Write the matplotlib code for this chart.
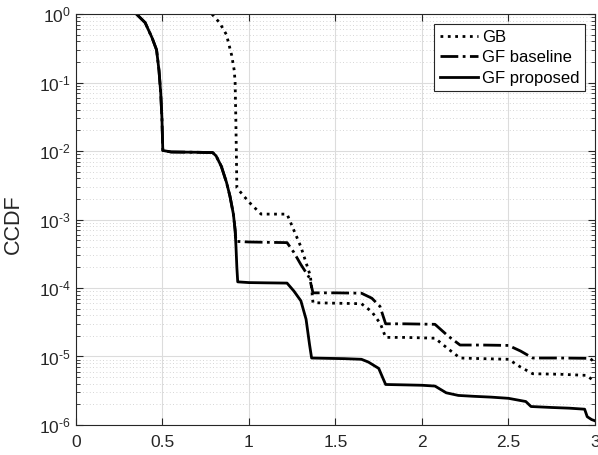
import matplotlib.pyplot as plt
from matplotlib.ticker import FixedLocator, LogLocator, NullFormatter

plt.rcParams['font.family'] = ['Liberation Sans', 'DejaVu Sans']
plt.rcParams['mathtext.fontset'] = 'custom'
plt.rcParams['mathtext.rm'] = 'Liberation Sans'
plt.rcParams['mathtext.it'] = 'Liberation Sans'

# GB (dotted)
gb_x = [0.786, 0.83, 0.87, 0.90, 0.915, 0.92, 0.924, 0.927, 0.93, 1.0, 1.07, 1.15, 1.22,
        1.30, 1.355, 1.37, 1.5, 1.65, 1.71, 1.76, 1.79, 1.9, 2.075, 2.15, 2.22, 2.35,
        2.50, 2.57, 2.64, 2.8, 2.95, 3.0]
gb_y = [1, 0.75, 0.5, 0.25, 0.15, 0.1, 0.03, 0.01, 0.0029, 0.0018, 0.0012, 0.0012, 0.0012,
        4e-4, 1.5e-4, 6.1e-5, 6e-5, 5.9e-5, 4.5e-5, 3e-5, 1.9e-5, 1.9e-5, 1.85e-5, 1.3e-5,
        9.5e-6, 9.3e-6, 9.1e-6, 7e-6, 5.6e-6, 5.5e-6, 5.3e-6, 4.3e-6]

# GF baseline (dash-dot)
base_x = [0.35, 0.40, 0.44, 0.466, 0.48, 0.49, 0.497, 0.502, 0.55, 0.70, 0.79, 0.81, 0.84,
          0.87, 0.89, 0.91, 0.92, 0.925, 1.0, 1.22, 1.26, 1.30, 1.35, 1.37, 1.5, 1.65, 1.71,
          1.757, 1.79, 1.9, 2.075, 2.15, 2.22, 2.35, 2.50, 2.57, 2.64, 2.8, 2.97, 3.0]
base_y = [1, 0.75, 0.45, 0.3, 0.15, 0.07, 0.03, 0.0102, 0.0097, 0.0096, 0.0095, 0.0085, 0.006,
          0.0035, 0.0022, 0.0012, 7e-4, 4.8e-4, 4.7e-4, 4.6e-4, 3.3e-4, 2.2e-4, 1.4e-4, 8.5e-5,
          8.5e-5, 8.4e-5, 7.1e-5, 5.4e-5, 3e-5, 3e-5, 2.95e-5, 2e-5, 1.47e-5, 1.47e-5, 1.45e-5,
          1.2e-5, 9.5e-6, 9.5e-6, 9.4e-6, 8.2e-6]

# GF proposed (solid)
prop_x = [0.35, 0.40, 0.44, 0.466, 0.48, 0.49, 0.497, 0.502, 0.55, 0.70, 0.79, 0.81, 0.84,
          0.87, 0.89, 0.91, 0.92, 0.925, 0.93, 0.935, 1.0, 1.1, 1.22, 1.26, 1.30, 1.33, 1.35,
          1.362, 1.45, 1.55, 1.65, 1.69, 1.75, 1.77, 1.79, 1.9, 2.0, 2.075, 2.14, 2.21, 2.30,
          2.40, 2.50, 2.60, 2.63, 2.75, 2.85, 2.94, 2.955, 2.98, 3.0]
prop_y = [1, 0.75, 0.45, 0.3, 0.15, 0.07, 0.03, 0.0102, 0.0097, 0.0096, 0.0095, 0.0085, 0.006,
          0.0035, 0.0022, 0.0012, 7e-4, 4e-4, 2e-4, 1.23e-4, 1.2e-4, 1.19e-4, 1.18e-4, 9e-5,
          6.5e-5, 3.5e-5, 1.5e-5, 9.5e-6, 9.4e-6, 9.3e-6, 9.1e-6, 8.3e-6, 6.7e-6, 5.1e-6,
          3.9e-6, 3.85e-6, 3.8e-6, 3.7e-6, 2.95e-6, 2.7e-6, 2.62e-6, 2.55e-6, 2.45e-6, 2.2e-6,
          1.86e-6, 1.8e-6, 1.76e-6, 1.7e-6, 1.32e-6, 1.2e-6, 1.15e-6]

xticks = [0, 0.5, 1, 1.5, 2, 2.5, 3]
xticklabels = ['0', '0.5', '1', '1.5', '2', '2.5', '3']
yticks = [1e-6, 1e-5, 1e-4, 1e-3, 1e-2, 1e-1, 1]
yticklabels = [r'$10^{\text{-6}}$', r'$10^{\text{-5}}$', r'$10^{\text{-4}}$',
               r'$10^{\text{-3}}$', r'$10^{\text{-2}}$', r'$10^{\text{-1}}$', r'$10^{0}$']

fig = plt.figure(figsize=(5.98, 4.55), dpi=100)
ax = fig.add_axes([0.127, 0.066, 0.868, 0.903])

ax.plot(gb_x, gb_y, color='black', linestyle=':', linewidth=2.0, label='GB')
ax.plot(base_x, base_y, color='black', linestyle='-.', linewidth=2.0, label='GF baseline')
ax.plot(prop_x, prop_y, color='black', linestyle='-', linewidth=2.0, label='GF proposed')

ax.set_yscale('log')
ax.set_xlim(0, 3)
ax.set_ylim(1e-6, 1)
ax.set_xticks(xticks)
ax.set_xticklabels(xticklabels)
ax.set_yticks(yticks)
ax.set_yticklabels(yticklabels)
ax.yaxis.set_minor_locator(LogLocator(base=10, subs=range(2, 10), numticks=20))
ax.yaxis.set_minor_formatter(NullFormatter())

ax.grid(True, which='major', color='#dcdcdc', linewidth=0.8)
ax.grid(True, which='minor', axis='y', color='#c8c8c8', linestyle=(0, (1, 3)), linewidth=0.6)
ax.set_axisbelow(True)

ax.tick_params(which='both', direction='in', top=True, right=True, colors='#262626',
               labelsize=12.5)
ax.tick_params(which='major', length=5)
ax.tick_params(which='minor', length=3)
ax.tick_params(axis='x', pad=7)
for s in ax.spines.values():
    s.set_color('#262626')
    s.set_linewidth(0.8)

ax.set_ylabel('CCDF', fontsize=15.5, color='#262626')
ax.yaxis.set_label_coords(-0.1, 0.488)

leg = ax.legend(loc='upper right', fontsize=12, fancybox=False, framealpha=1,
                edgecolor='#262626', handlelength=2.3, borderpad=0.35, labelspacing=0.32,
                handletextpad=0.2, borderaxespad=0.6)
leg.get_frame().set_linewidth(0.8)

fig.savefig('out.png', dpi=100)
